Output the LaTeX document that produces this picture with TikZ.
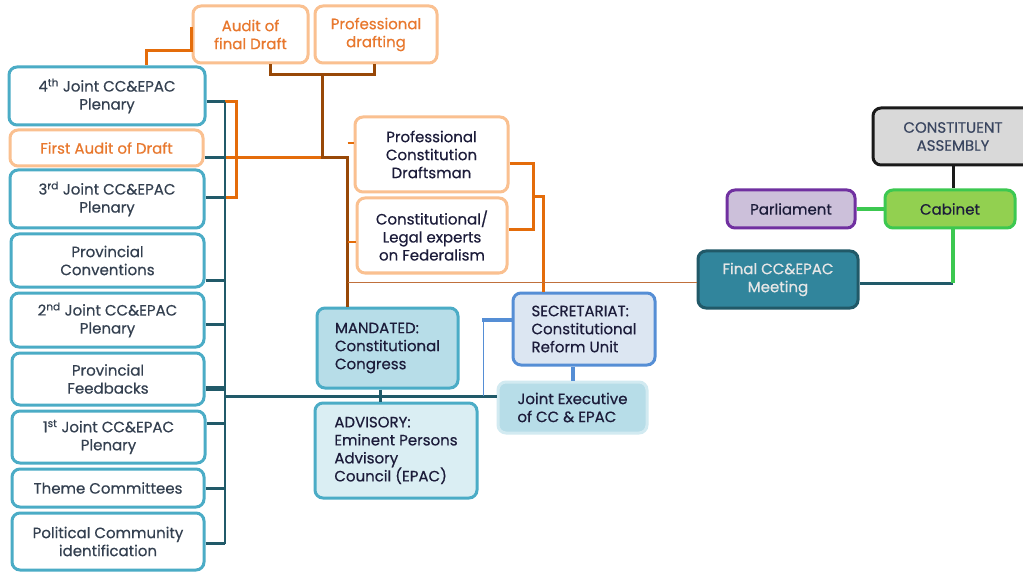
\documentclass[tikz,border=0pt]{standalone}
\usepackage{fontspec}
\setmainfont{Poppins}[FakeBold=0.5]
\usetikzlibrary{calc}
\definecolor{tealB}{HTML}{4BACC6}
\definecolor{dteal}{HTML}{215A69}
\definecolor{orangeL}{HTML}{E46C0A}
\definecolor{orangeT}{HTML}{E8782E}
\definecolor{peach}{HTML}{FAC090}
\definecolor{brownL}{HTML}{984807}
\definecolor{brownT}{HTML}{C0703C}
\definecolor{mandF}{HTML}{B7DDE8}
\definecolor{advF}{HTML}{DAEEF3}
\definecolor{jeB}{HTML}{D2EAF1}
\definecolor{secF}{HTML}{DCE6F2}
\definecolor{secB}{HTML}{558ED5}
\definecolor{finF}{HTML}{31859C}
\definecolor{finB}{HTML}{215968}
\definecolor{finT}{HTML}{E6E6E6}
\definecolor{parF}{HTML}{CCC0DA}
\definecolor{parB}{HTML}{7030A0}
\definecolor{cabF}{HTML}{92D050}
\definecolor{cabB}{HTML}{3CC850}
\definecolor{caF}{HTML}{D9D9D9}
\definecolor{caB}{HTML}{1A1A1A}
\definecolor{caT}{HTML}{3A4660}
\definecolor{dtext}{HTML}{1C1C3A}
\definecolor{ltext}{HTML}{344050}
\newcommand\mkbox[7]{\node[#6, minimum width={#4-#2}, minimum height={#5-#3}] (#1) at ({(#2+#4)/2},{(#3+#5)/2}) {#7};}
\begin{document}
\begin{tikzpicture}[x=1pt,y=-1pt,
  base/.style={rounded corners=8pt, line width=3pt, inner sep=2pt, align=center, font=\fontsize{15}{18}\selectfont},
  leftbox/.style={base, draw=tealB, fill=white, text=ltext},
  peachbox/.style={base, draw=peach, fill=white, text=orangeT},
  peachdark/.style={base, draw=peach, fill=white, text=dtext},
  mandbox/.style={base, draw=tealB, fill=mandF, text=dtext, align=left},
  advbox/.style={base, draw=tealB, fill=advF, text=dtext, align=left},
  secbox/.style={base, draw=secB, fill=secF, text=dtext, align=left},
  jebox/.style={base, draw=jeB, fill=mandF, text=dtext, align=left},
  finbox/.style={base, draw=finB, fill=finF, text=finT},
  parbox/.style={base, draw=parB, fill=parF, text=dtext},
  cabbox/.style={base, draw=cabB, fill=cabF, text=dtext},
  cabox/.style={base, draw=caB, fill=caF, text=caT},
  dk/.style={draw=dteal, line width=3pt},
  dkthin/.style={draw=dteal, line width=1.5pt},
  org/.style={draw=orangeL, line width=3pt},
  orgthin/.style={draw=orangeL, line width=2pt},
  brn/.style={draw=brownL, line width=3pt},
  brnthin/.style={draw=brownT, line width=1pt},
  bluethick/.style={draw=secB, line width=4pt},
  bluethin/.style={draw=secB, line width=1.2pt},
  grn/.style={draw=cabB, line width=3.5pt},
  blk/.style={draw=caB, line width=3pt}]
\fill[white] (0,0) rectangle (1023,572);
\useasboundingbox (0,0) rectangle (1023,572);
% left column
\mkbox{j4}{9}{67}{205}{125}{leftbox}{4\textsuperscript{th} Joint CC\&EPAC\\Plenary}
\mkbox{fa}{10}{130}{203}{166}{peachbox}{First Audit of Draft}
\mkbox{j3}{10}{170}{204}{228}{leftbox}{3\textsuperscript{rd} Joint CC\&EPAC\\Plenary}
\mkbox{pc}{11}{234}{204}{287}{leftbox}{Provincial\\Conventions}
\mkbox{j2}{11}{293}{204}{347}{leftbox}{2\textsuperscript{nd} Joint CC\&EPAC\\Plenary}
\mkbox{pf}{12}{353}{204}{405}{leftbox}{Provincial\\Feedbacks}
\mkbox{j1}{12}{411}{205}{463}{leftbox}{1\textsuperscript{st} Joint CC\&EPAC\\Plenary}
\mkbox{tc}{12}{469}{204}{507}{leftbox}{Theme Committees}
\mkbox{pci}{12}{513}{204}{570}{leftbox}{Political Community\\identification}
% top
\mkbox{afd}{193}{6}{308}{63}{peachbox}{Audit of\\final Draft}
\mkbox{pd}{315}{6}{437}{63}{peachbox}{Professional\\drafting}
\mkbox{pcd}{355}{117}{508}{192}{peachdark}{Professional\\Constitution\\Draftsman}
\mkbox{cle}{357}{198}{507}{273}{peachdark}{Constitutional/\\Legal experts\\on Federalism}
% middle
\mkbox{man}{317}{308}{458}{388}{mandbox}{MANDATED:\\Constitutional\\Congress}
\mkbox{adv}{315}{403}{477}{498}{advbox}{ADVISORY:\\Eminent Persons\\Advisory\\Council (EPAC)}
\mkbox{sec}{513}{293}{655}{365}{secbox}{SECRETARIAT:\\Constitutional\\Reform Unit}
\mkbox{je}{498}{382}{647}{433}{jebox}{Joint Executive\\of CC \& EPAC}
% right
\mkbox{fin}{698}{251}{858}{308}{finbox}{Final CC\&EPAC\\Meeting}
\mkbox{par}{727}{190}{855}{228}{parbox}{Parliament}
\mkbox{cab}{885}{190}{1015}{228}{cabbox}{Cabinet}
\mkbox{ca}{873}{108}{1033}{165}{cabox}{CONSTITUENT\\ASSEMBLY}
% ---- left trunk
\coordinate (trunk) at (225,0);
\coordinate (s4) at ($(j4.east)+(0,6)$);
\coordinate (sfa) at ($(fa.east)+(0,9.5)$);
\coordinate (s3) at ($(j3.east)+(0,-1)$);
\coordinate (spc) at ($(pc.east)+(0,19.5)$);
\coordinate (s2) at ($(j2.east)+(0,4)$);
\coordinate (spf) at ($(pf.east)+(0,9)$);
\coordinate (s1) at ($(j1.east)+(0,-14)$);
\coordinate (stc) at (tc.east);
\coordinate (spol) at ($(pci.east)+(0,2)$);
\coordinate (hy) at ($(je.west)+(0,-11.5)$);
% orange bracket & line
\draw[org] (s4 -| trunk) -- ++(11,0) |- (s3 -| trunk);
\coordinate (ba) at ($(afd.south)+(20,0)$);
\coordinate (bb) at ($(pd.south)+(-2,0)$);
\coordinate (bj) at ($(ba)!0.5!(bb)+(0,10)$);
\coordinate (bv) at ($(man.north)+(-40,0)$);
\draw[org] (sfa -| trunk) -- (bj |- sfa);
\draw[dkthin] (s4 -| trunk) -- (spol -| trunk);
\foreach \s in {s4,sfa,s3,spc,s2,s1,stc,spol} \draw[dk] (\s) -- (\s -| trunk);
\draw[dk, line width=5pt] (spf) -- (spf -| trunk);
\draw[dk] (hy -| trunk) -- (hy);
% orange from audit to 4th
\coordinate (oa) at ($(afd.west)+(0,-7.5)$);
\draw[org] (oa) -- ++(0,24) -| (j4.north -| {$(j4.north)+(39,0)$});
% brown
\draw[brn] (ba) -- ++(0,10) -| (bb);
\draw[brn] (bj) -- (bj |- sfa) -- (bv |- sfa) -- (bv |- man.north);
\coordinate (op1) at ($(pcd.west)+(0,-11.5)$);
\coordinate (op2) at ($(cle.west)+(0,6.5)$);
\draw[orgthin] (op1 -| bv) -- (op1);
\draw[orgthin] (op2 -| bv) -- (op2);
% right orange bracket
\coordinate (or1) at ($(pcd.east)+(0,9.5)$);
\coordinate (or2) at ($(cle.east)+(0,-5.5)$);
\coordinate (ox) at ($(pcd.east)+(24,0)$);
\draw[org] (or1) -- (or1 -| ox) -- (or2 -| ox) -- (or2);
\coordinate (omid) at ($(or1 -| ox)!0.5!(or2 -| ox)$);
\coordinate (sx) at ($(sec.north)+(-41,0)$);
\draw[org] (omid) -| (sx);
% thin brown to final
\coordinate (fl) at ($(fin.west)+(0,2.5)$);
\draw[brnthin] (fl -| bv) -- (fl);
% mandated-advisory
\coordinate (ms) at ($(man.south)+(-7.5,0)$);
\draw[dk] (ms) -- (ms |- adv.north);
% blue
\coordinate (bs) at ($(sec.west)+(0,-9)$);
\coordinate (bt) at ($(bs)+(-28,0)$);
\draw[bluethin] (bt) -- (bt |- hy);
\draw[bluethick] (bs) -- ++(-30,0);
\draw[bluethick] (je.north) -- (je.north |- sec.south);
% right side
\draw[blk] (ca.south) -- (ca.south |- cab.north);
\draw[grn] (par.east) -- (cab.west);
\coordinate (fr) at ($(fin.east)+(0,3.5)$);
\coordinate (cs) at ($(cab.south)+(3,0)$);
\draw[dk] (cs |- fr) -- (fr);
\draw[grn] (cs) -- (cs |- fr);
\end{tikzpicture}
\end{document}
